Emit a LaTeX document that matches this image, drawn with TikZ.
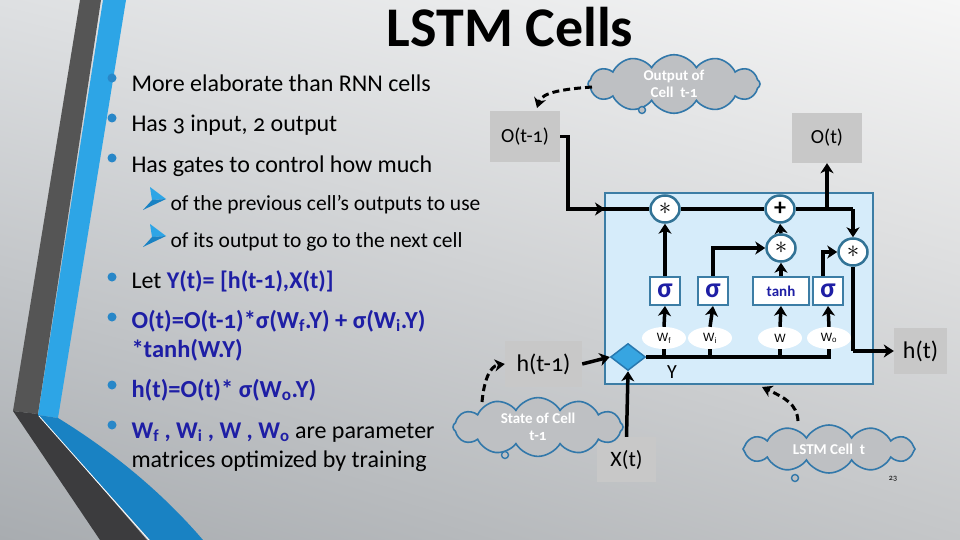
\documentclass[tikz,border=0pt]{standalone}
\usepackage{fontspec}
\setmainfont{Carlito}[Numbers=OldStyle]
\newfontfamily\wfont{Liberation Sans}
\usetikzlibrary{arrows.meta,shapes.geometric,shapes.symbols,calc,shadings}
\definecolor{dblue}{RGB}{30,30,165}
\definecolor{bulletblue}{RGB}{40,135,200}
\definecolor{cellfill}{RGB}{214,236,250}
\definecolor{cellborder}{RGB}{60,125,165}
\definecolor{circborder}{RGB}{50,115,150}
\definecolor{boxgray}{RGB}{200,200,200}
\definecolor{cloudfill}{RGB}{190,192,195}
\definecolor{cloudline}{RGB}{50,120,170}
\definecolor{diafill}{RGB}{55,165,225}
\definecolor{diaborder}{RGB}{40,120,175}
\definecolor{stripedark}{RGB}{85,85,85}
\definecolor{stripedarklow}{RGB}{60,60,62}
\definecolor{stripeblue}{RGB}{45,165,230}
\definecolor{stripebluelow}{RGB}{25,130,195}
\definecolor{bgul}{RGB}{222,224,226}
\definecolor{bgur}{RGB}{246,246,246}
\definecolor{bgll}{RGB}{168,172,176}
\definecolor{bglr}{RGB}{196,198,200}
\tikzset{
  ln/.style={line width=3.5pt, black},
  arr/.style={ln, -{Stealth[length=10pt,width=13pt,inset=3pt]}},
  dasharr/.style={line width=3pt, black, dash pattern=on 7pt off 4pt, -{Stealth[length=10pt,width=12pt,inset=3pt]}},
  gbox/.style={rectangle, fill=boxgray, inner sep=0pt, font=\fontsize{20}{22}\selectfont},
  opcirc/.style={ellipse, draw=circborder, line width=2.5pt, fill=white, minimum width=29pt, minimum height=27pt, inner sep=0pt, font=\fontsize{24}{24}\selectfont},
  sbox/.style={rectangle, draw=cellborder, line width=2pt, fill=white, minimum height=28pt, inner sep=0pt, text=dblue, font=\fontsize{15}{16}\selectfont\bfseries},
  wel/.style={ellipse, fill=white, minimum width=44pt, minimum height=22pt, inner sep=0pt, font=\wfont\fontsize{12}{12}\selectfont},
  cloudn/.style={cloud, cloud puffs=12, cloud puff arc=120, cloud ignores aspect=false, aspect=3.6, draw=cloudline, fill=cloudfill, line width=1.6pt, inner sep=0pt, text=white, align=center, font=\fontsize{15}{17}\selectfont\bfseries},
  btext/.style={anchor=base west, font=\fontsize{24}{28}\selectfont},
  stext/.style={anchor=base west, font=\fontsize{21.5}{26}\selectfont},
  pics/subarrow/.style={code={
    \fill[stripeblue] (7,-23) -- (23,-11) -- (9,-10) -- cycle;
    \fill[stripebluelow] (9,-10) -- (23,-11) -- (0,0) -- cycle;
  }}
}
\begin{document}
\begin{tikzpicture}[x=1pt,y=-1pt]
\useasboundingbox (0,0) rectangle (960,540);
% background
\shade[upper left=bgul, upper right=bgur, lower left=bgll, lower right=bglr] (0,0) rectangle (960,540);
% decorative stripes
\fill[stripedark] (80,0) -- (101,0) -- (38,414) -- (13,411) -- cycle;
\fill[stripedarklow] (13,411) -- (38,414) -- (147,540) -- (100,540) -- cycle;
\fill[stripeblue] (103,0) -- (126,0) -- (58,418) -- (38,415) -- cycle;
\fill[stripebluelow] (38,415) -- (58,418) .. controls (110,450) and (160,490) .. (203,540) -- (150,540) -- cycle;
\draw[white, line width=0.8pt] (39,416) -- (149,540);

% title
\node[anchor=base, font=\fontsize{56}{60}\selectfont\bfseries] (title) at (510,47) {LSTM Cells};

% bullets
\foreach \yy in {78,118,158,277,317,385,425} { \fill[bulletblue] (112,\yy) circle (4.5); }
\node[btext] (b1) at (128,92) {More elaborate than RNN cells};
\node[btext] (b2) at (128,132) {Has 3 input, 2 output};
\node[btext] (b3) at (128,172) {Has gates to control how much};
\pic at (143,210) {subarrow};
\node[stext] (s1t) at (167,210) {of the previous cell’s outputs to use};
\pic at (143,247) {subarrow};
\node[stext] (s2t) at (167,247) {of its output to go to the next cell};
\node[btext] (b4) at (128,288) {Let {\color{dblue}\bfseries Y(t)= [h(t-1),X(t)]}};
\node[btext, text=dblue, font=\fontsize{24.5}{28}\selectfont\bfseries] (b5) at (128,328) {O(t)=O(t-1)*σ(W\textsubscript{f}.Y) + σ(W\textsubscript{i}.Y)};
\node[btext, text=dblue, font=\fontsize{24.5}{28}\selectfont\bfseries] (b5b) at (128,357) {*tanh(W.Y)};
\node[btext, text=dblue, font=\fontsize{24.5}{28}\selectfont\bfseries] (b6) at (128,397) {h(t)=O(t)* σ(W\textsubscript{o}.Y)};
\node[btext] (b7) at (128,438) {{\color{dblue}\bfseries W\textsubscript{f} , W\textsubscript{i} , W , W\textsubscript{o}} are parameter};
\node[btext] (b7b) at (128,467) {matrices optimized by training};

% cell box
\node[rectangle, draw=cellborder, fill=cellfill, line width=2pt, minimum width=268pt, minimum height=191pt, inner sep=0pt] (cell) at (739,288.5) {};

% outer boxes
\node[gbox, minimum width=70pt, minimum height=51pt] (ot1) at (525,136.5) {O(t-1)};
\node[gbox, minimum width=70pt, minimum height=50pt] (ot) at (827,138) {O(t)};
\node[gbox, minimum width=77pt, minimum height=46pt, font=\fontsize{24}{26}\selectfont] (ht1) at (543.5,364) {h(t-1)};
\node[gbox, minimum width=59pt, minimum height=45pt, font=\fontsize{22}{24}\selectfont] (xt) at (626.5,459.5) {X(t)};
\node[gbox, minimum width=53pt, minimum height=46pt, font=\fontsize{24}{26}\selectfont] (ht) at (920.5,351) {h(t)};

% operators
\node[opcirc] (m1) at (665,209) {$\ast$};
\node[opcirc] (pl) at (780,209) {\textbf{+}};
\node[opcirc] (m2) at (781,248) {$\ast$};
\node[opcirc] (m3) at (853,252) {$\ast$};

% gate boxes
\node[sbox, minimum width=30pt, font=\fontsize{28}{28}\selectfont\bfseries] (sf) at (665,291) {σ};
\node[sbox, minimum width=30pt, font=\fontsize{28}{28}\selectfont\bfseries] (si) at (713,291) {σ};
\node[sbox, minimum width=56pt] (th) at (781,291) {tanh};
\node[sbox, minimum width=30pt, font=\fontsize{28}{28}\selectfont\bfseries] (so) at (828,291) {σ};

% weight ellipses
\node[wel] (wf) at (664,338) {W\textsubscript{f}};
\node[wel] (wi) at (710,338) {W\textsubscript{i}};
\node[wel] (ww) at (780,338) {W};
\node[wel] (wo) at (829,338) {W\textsubscript{o}};

% diamond
\node[diamond, fill=diafill, draw=diaborder, line width=1.5pt, minimum width=35pt, minimum height=27pt, inner sep=0pt, aspect=1.3] (dia) at (628,357) {};
\node[font=\fontsize{20}{20}\selectfont] (ylab) at (672,372) {Y};

% connectors
\coordinate (c1) at (568,136.5);
\coordinate (cellin) at (605,209);
\draw[ln] (ot1.east) -- (c1) -- (568,209) -- (cellin);
\draw[arr] (568,209) -- (cellin);
\draw[ln] (cellin) -- (m1);
\draw[ln] (m1) -- (pl);
\coordinate (jt) at (827,209);
\coordinate (jr) at (853,209);
\draw[ln] (pl.east) -- (jr);
\draw[arr] (jr) -- (m3.north);
\draw[arr] (jt) -- (ot.south);
\draw[arr] (sf.north) -- (m1.south);
\draw[arr] (si.north) |- (m2.west);
\draw[arr] (th.north) -- (m2.south);
\draw[arr] (m2.north) -- (pl.south);
\draw[arr] ([xshift=-5pt]so.north) |- (m3.west);
\coordinate (jo) at (853,351);
\draw[ln] (m3.south) -- (jo);
\draw[arr] (jo) -- (ht.west);
\draw[arr] (wf.north) -- (sf.south);
\draw[arr] (wi.north) -- (si.south);
\draw[arr] (ww.north) -- (th.south);
\draw[arr] (wo.north) -- (so.south);
\coordinate (yend) at (829,357);
\draw[ln] (dia.east) -- (yend) -- (wo.south);
\draw[ln] (wf.south) -- (wf.south |- yend);
\draw[ln] (wi.south) -- (wi.south |- yend);
\draw[ln] (ww.south) -- (ww.south |- yend);
\draw[arr] (ht1.east) -- (dia.west);
\draw[arr] (xt.north) -- (dia.south);

% clouds
\node[cloudn, minimum width=172pt, minimum height=47pt] (cl1) at (674,84) {Output of\\Cell~ t-1};
\node[cloudn, minimum width=170pt, minimum height=48pt] (cl2) at (538,427) {State of Cell\\t-1};
\node[cloudn, minimum width=172pt, minimum height=48pt] (cl3) at (829,449) {LSTM Cell~ t};
\foreach \cx/\cy in {642/110, 505/455, 795/478} {
  \draw[cloudline, fill=cloudfill, line width=1.4pt] (\cx,\cy) circle (3.5);
}
\coordinate (d1) at (592,87);
\coordinate (d2) at (482,402);
\coordinate (d3) at (798,421);
\coordinate (d1e) at (537,108);
\coordinate (d3e) at (762,387);
\draw[dasharr] (d1) .. controls (565,89) and (542,92) .. (d1e);
\draw[dasharr] (d2) .. controls (484,380) and (490,366) .. (ht1.west);
\draw[dasharr] (d3) .. controls (797,404) and (785,398) .. (d3e);

% page number
\node[font=\fontsize{8}{8}\selectfont] (pn) at (893,479) {23};
\end{tikzpicture}
\end{document}
